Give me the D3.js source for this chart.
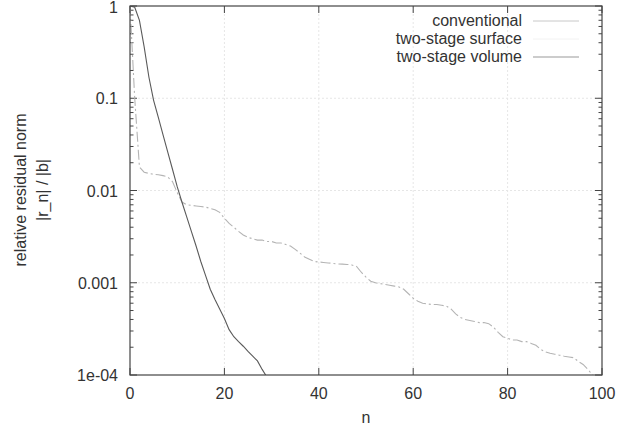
<!DOCTYPE html>
<html>
<head>
<meta charset="utf-8">
<script src="https://cdn.jsdelivr.net/npm/d3@7"></script>
<style>
  body { margin: 0; background: #fff; }
  text { font-family: "Liberation Sans", Arial, sans-serif; fill: #333; }
</style>
</head>
<body>
<script>
var width = 620
var height = 432
var margin = { left: 130, right: 18, top: 6, bottom: 57 }

var seriesNames = ["conventional", "two-stage surface", "two-stage volume"]
var xTicks = [0, 20, 40, 60, 80, 100]
var yTicks = [1, 0.1, 0.01, 0.001, 1e-4]
var yTickLabels = ["1", "0.1", "0.01", "0.001", "1e-04"]

// residual per iteration
var conventional = [1, 0.1, 0.018, 0.0158, 0.0153, 0.015, 0.0148, 0.0145, 0.014, 0.0125,
    0.0095, 0.0075, 0.007, 0.0069, 0.0068, 0.0067, 0.0066, 0.0064, 0.0062, 0.0058,
    0.005, 0.0044, 0.004, 0.0036, 0.0033, 0.0031, 0.003, 0.0029, 0.0029, 0.0028,
    0.0028, 0.0027, 0.0027, 0.0026, 0.0025, 0.0023, 0.0021, 0.0019, 0.0018, 0.0017,
    0.00168, 0.00166, 0.00164, 0.00162, 0.0016, 0.00159, 0.00158, 0.00156, 0.0015, 0.0013,
    0.00115, 0.00104, 0.001, 0.00098, 0.00096, 0.00094, 0.00092, 0.0009, 0.00085, 0.00076,
    0.00068, 0.00063, 0.0006, 0.00059, 0.00058, 0.00058, 0.00057, 0.00056, 0.00052, 0.00046,
    0.00042, 0.0004, 0.00039, 0.00038, 0.00037, 0.00037, 0.00036, 0.00033, 0.00029, 0.00026,
    0.00025, 0.00024, 0.00024, 0.00023, 0.00023, 0.00022, 0.00021, 0.00019, 0.000178, 0.000172,
    0.000168, 0.000164, 0.00016, 0.000157, 0.000154, 0.00014, 0.00013, 0.000115, 0.0001, 0.00009]

var twoStageVolume = [1, 0.97, 0.7, 0.36, 0.17, 0.095, 0.062, 0.04, 0.026, 0.017,
    0.011, 0.0075, 0.0052, 0.0036, 0.0025, 0.0017, 0.0012, 0.00085, 0.00066, 0.00052,
    0.00041, 0.00031, 0.00026, 0.00023, 0.000205, 0.00018, 0.00016, 0.000142, 0.000115, 0.000095]

var x = d3.scaleLinear().domain([0, 100]).range([margin.left, width - margin.right])
var y = d3.scaleLog().domain([1e-4, 1]).range([height - margin.bottom, margin.top])

var svg = d3.select("body")
    .append("svg")
    .attr("width", width)
    .attr("height", height)

svg.append("defs").append("clipPath")
    .attr("id", "plot")
    .append("rect")
    .attr("x", x(0))
    .attr("y", y(1))
    .attr("width", x(100) - x(0))
    .attr("height", y(1e-4) - y(1))

// grid
svg.selectAll(".gx")
    .data(xTicks.slice(1, -1))
    .enter()
    .append("line")
    .attr("x1", d => x(d)).attr("x2", d => x(d))
    .attr("y1", y(1)).attr("y2", y(1e-4))
    .attr("stroke", "#e6e6e6")
    .attr("stroke-dasharray", "2,2")

svg.selectAll(".gy")
    .data(yTicks.slice(1, -1))
    .enter()
    .append("line")
    .attr("x1", x(0)).attr("x2", x(100))
    .attr("y1", d => y(d)).attr("y2", d => y(d))
    .attr("stroke", "#e6e6e6")
    .attr("stroke-dasharray", "2,2")

// ticks, all four sides, pointing in
var minor = []
for (var e = -4; e < 0; e++) {
    for (var m = 2; m < 10; m++) minor.push(m * Math.pow(10, e))
}

var ticks = svg.append("g").attr("stroke", "#444").attr("stroke-width", 1)

xTicks.forEach(function (d) {
    ticks.append("line").attr("x1", x(d)).attr("x2", x(d)).attr("y1", y(1e-4)).attr("y2", y(1e-4) - 7)
    ticks.append("line").attr("x1", x(d)).attr("x2", x(d)).attr("y1", y(1)).attr("y2", y(1) + 7)
})
yTicks.forEach(function (d) {
    ticks.append("line").attr("x1", x(0)).attr("x2", x(0) + 7).attr("y1", y(d)).attr("y2", y(d))
    ticks.append("line").attr("x1", x(100)).attr("x2", x(100) - 7).attr("y1", y(d)).attr("y2", y(d))
})
minor.forEach(function (d) {
    ticks.append("line").attr("x1", x(0)).attr("x2", x(0) + 3.5).attr("y1", y(d)).attr("y2", y(d))
    ticks.append("line").attr("x1", x(100)).attr("x2", x(100) - 3.5).attr("y1", y(d)).attr("y2", y(d))
})

// curves
var line = d3.line()
    .x(function (d, i) { return x(i) })
    .y(function (d) { return y(d) })

var curves = svg.append("g").attr("clip-path", "url(#plot)")

curves.append("path")
    .datum(conventional)
    .attr("d", line)
    .attr("fill", "none")
    .attr("stroke", "#b4b4b4")
    .attr("stroke-width", 1.1)
    .attr("stroke-dasharray", "10,3,2,3")

curves.append("path")
    .datum(twoStageVolume)
    .attr("d", line)
    .attr("fill", "none")
    .attr("stroke", "#5a5a5a")
    .attr("stroke-width", 1.1)

// frame
svg.append("rect")
    .attr("x", x(0))
    .attr("y", y(1))
    .attr("width", x(100) - x(0))
    .attr("height", y(1e-4) - y(1))
    .attr("fill", "none")
    .attr("stroke", "#444")
    .attr("stroke-width", 1.2)

// tick labels
svg.selectAll(".xl")
    .data(xTicks)
    .enter()
    .append("text")
    .attr("x", d => x(d))
    .attr("y", y(1e-4) + 24)
    .attr("text-anchor", "middle")
    .style("font-size", "16px")
    .text(d => d)

svg.selectAll(".yl")
    .data(yTicks)
    .enter()
    .append("text")
    .attr("x", x(0) - 12)
    .attr("y", d => Math.max(y(d) + 6, 13))
    .attr("text-anchor", "end")
    .style("font-size", "16px")
    .text((d, i) => yTickLabels[i])

// axis titles
svg.append("text")
    .attr("x", (x(0) + x(100)) / 2)
    .attr("y", 423)
    .attr("text-anchor", "middle")
    .style("font-size", "16px")
    .text("n")

var yTitle = svg.append("g").attr("transform", "translate(26,190) rotate(-90)")
yTitle.append("text")
    .attr("text-anchor", "middle")
    .style("font-size", "16px")
    .text("relative residual norm")
yTitle.append("text")
    .attr("y", 22)
    .attr("text-anchor", "middle")
    .style("font-size", "16px")
    .text("|r_n| / |b|")

// legend
var legendColors = ["#c8c8c8", "#f2f2f2", "#999"]
var legend = svg.selectAll(".legend")
    .data(seriesNames)
    .enter()
    .append("g")
    .attr("transform", (d, i) => "translate(0," + (21 + i * 18) + ")")

legend.append("text")
    .attr("x", 522)
    .attr("y", 5)
    .attr("text-anchor", "end")
    .style("font-size", "16px")
    .text(d => d)

legend.append("line")
    .attr("x1", 533).attr("x2", 579)
    .attr("stroke", (d, i) => legendColors[i])
    .attr("stroke-width", 1)
</script>
</body>
</html>
